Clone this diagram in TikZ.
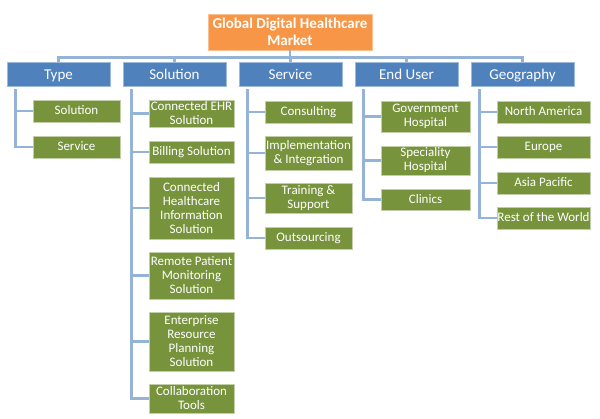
\documentclass[tikz,border=0pt]{standalone}
\usepackage{fontspec}
\setmainfont{Carlito}
\definecolor{catblue}{HTML}{4F81BD}
\definecolor{subgreen}{HTML}{77933C}
\definecolor{titleorange}{HTML}{F79646}
\definecolor{connblue}{HTML}{95B3D7}
\tikzset{
  titlebox/.style={fill=titleorange, draw=titleorange!60!white, line width=0.8pt, text=white, inner sep=0pt, align=center, font=\fontsize{15}{17.5}\selectfont\bfseries},
  catbox/.style={fill=catblue, draw=catblue!55!white, line width=0.8pt, text=white, inner sep=0pt, minimum width=103pt, minimum height=24pt, text height=13pt, text depth=1.5pt, align=center, font=\fontsize{15}{18}\selectfont},
  subbox/.style={fill=subgreen, draw=subgreen!45!white, line width=0.8pt, text=white, inner sep=0pt, align=center, font=\fontsize{13}{14}\selectfont},
  oneline/.style={text height=10pt, text depth=2pt},
  conn/.style={draw=connblue, line width=2.5pt},
}
\begin{document}
\begin{tikzpicture}[x=1pt,y=-1pt]
\useasboundingbox (0,0) rectangle (600,419);
% title
\node[titlebox, minimum width=164pt, minimum height=36pt] (title) at (290,32) {Global Digital Healthcare\\Market};
% categories
\node[catbox] (type) at (58.5,74) {Type};
\node[catbox] (sol) at (174.5,74) {Solution};
\node[catbox] (serv) at (290.5,74) {Service};
\node[catbox] (end) at (406.5,74) {End User};
\node[catbox] (geo) at (522.5,74) {Geography};
% title connectors
\foreach \c in {type,sol,serv,end,geo}
  \draw[conn] (title.south) -- ++(0,7) -| (\c.north);
% Type children
\node[subbox, oneline, minimum width=87pt, minimum height=22pt] (t1) at (76.5,111) {Solution};
\node[subbox, oneline, minimum width=87pt, minimum height=22pt] (t2) at (76.5,147) {Service};
% Solution children
\node[subbox, minimum width=85pt, minimum height=27pt] (s1) at (191.5,113.5) {Connected EHR\\Solution};
\node[subbox, oneline, minimum width=85pt, minimum height=22pt] (s2) at (191.5,152) {Billing Solution};
\node[subbox, minimum width=85pt, minimum height=62pt] (s3) at (191.5,208) {Connected\\Healthcare\\Information\\Solution};
\node[subbox, minimum width=85pt, minimum height=47pt] (s4) at (191.5,275.5) {Remote Patient\\Monitoring\\Solution};
\node[subbox, minimum width=85pt, minimum height=59pt] (s5) at (191.5,341.5) {Enterprise\\Resource\\Planning\\Solution};
\node[subbox, minimum width=85pt, minimum height=29pt] (s6) at (191.5,398.5) {Collaboration\\Tools};
% Service children
\node[subbox, oneline, minimum width=87pt, minimum height=22pt] (v1) at (308.5,112) {Consulting};
\node[subbox, minimum width=87pt, minimum height=34pt] (v2) at (308.5,153) {Implementation\\\& Integration};
\node[subbox, minimum width=87pt, minimum height=30pt] (v3) at (308.5,198) {Training \&\\Support};
\node[subbox, oneline, minimum width=87pt, minimum height=22pt] (v4) at (308.5,238) {Outsourcing};
% End user children
\node[subbox, minimum width=89pt, minimum height=31pt] (e1) at (425.5,116.5) {Government\\Hospital};
\node[subbox, minimum width=89pt, minimum height=29pt] (e2) at (425.5,160.5) {Speciality\\Hospital};
\node[subbox, oneline, minimum width=89pt, minimum height=21pt] (e3) at (425.5,199.5) {Clinics};
% Geography children
\node[subbox, oneline, minimum width=93pt, minimum height=22pt] (g1) at (543.5,112) {North America};
\node[subbox, oneline, minimum width=93pt, minimum height=22pt] (g2) at (543.5,147) {Europe};
\node[subbox, oneline, minimum width=93pt, minimum height=22pt] (g3) at (543.5,183) {Asia Pacific};
\node[subbox, oneline, minimum width=93pt, minimum height=22pt] (g4) at (543.5,218) {Rest of the World};
% trunks and branches
\foreach \c in {t1,t2} \draw[conn] ([xshift=9pt,yshift=-3pt]type.south west) |- (\c.west);
\foreach \c in {s1,s2,s3,s4,s5,s6} \draw[conn] ([xshift=9pt,yshift=-3pt]sol.south west) |- (\c.west);
\foreach \c in {v1,v2,v3,v4} \draw[conn] ([xshift=9pt,yshift=-3pt]serv.south west) |- (\c.west);
\foreach \c in {e1,e2,e3} \draw[conn] ([xshift=9pt,yshift=-3pt]end.south west) |- (\c.west);
\foreach \c in {g1,g2,g3,g4} \draw[conn] ([xshift=9pt,yshift=-3pt]geo.south west) |- (\c.west);
\end{tikzpicture}
\end{document}
